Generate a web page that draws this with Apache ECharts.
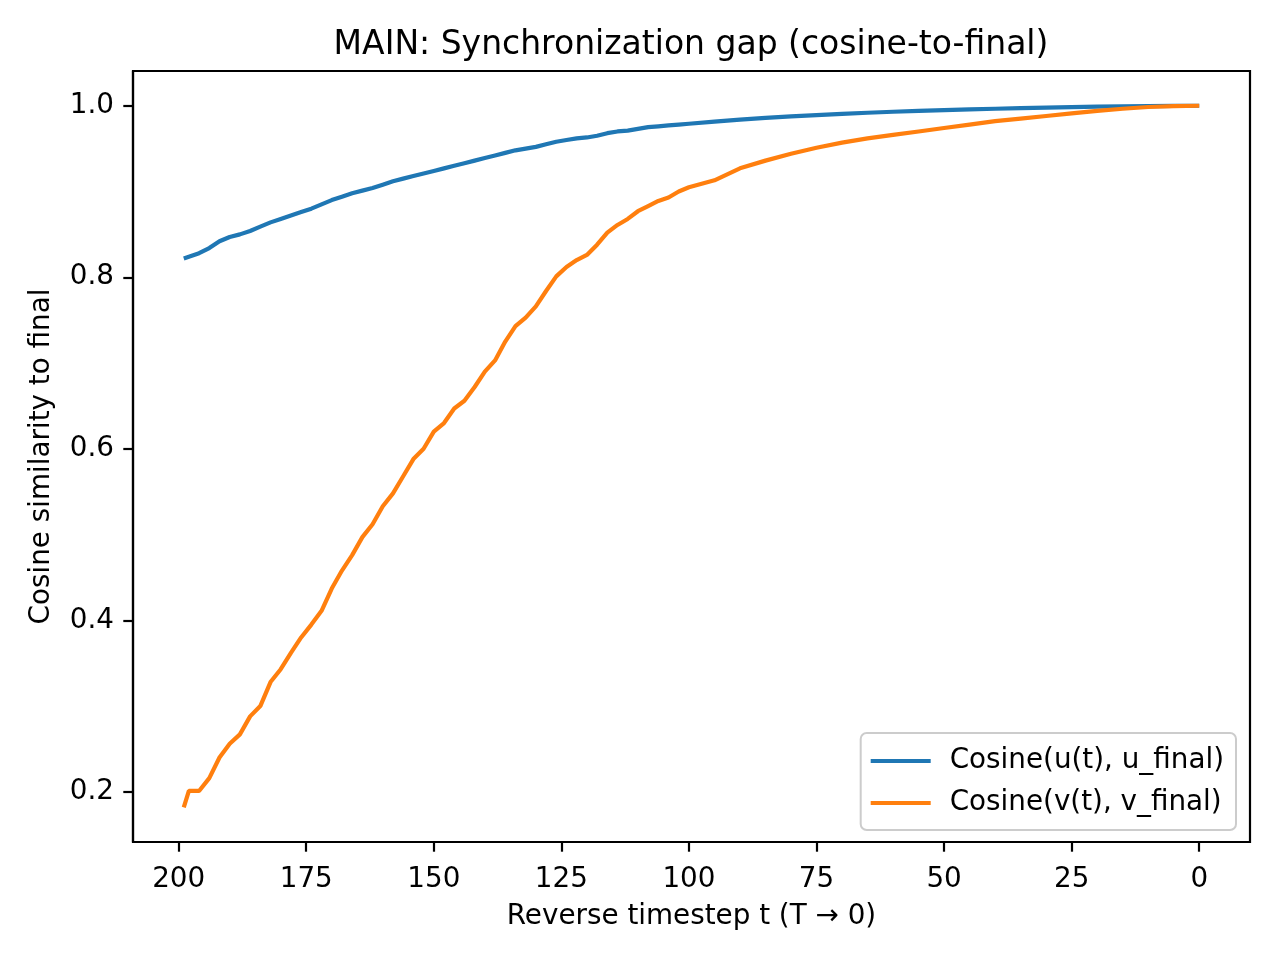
<!DOCTYPE html>
<html>
<head>
<meta charset="utf-8">
<script src="https://cdn.jsdelivr.net/npm/echarts@6/dist/echarts.min.js"></script>
<style>html,body{margin:0;padding:0;background:#fff}#c{width:1280px;height:960px}</style>
</head>
<body>
<div id="c"></div>
<script>
const timesteps = [199,198,196,194,192,190,188,186,184,182,180,178,176,174,172,170,168,166,164,162,160,158,156,154,152,150,148,146,144,142,140,138,136,134,132,130,128,126,124,122,120,118,116,114,112,110,108,106,104,102,100,95,90,85,80,75,70,65,60,55,50,45,40,35,30,25,20,15,10,5,0];
const cosU = [0.822,0.824,0.828,0.834,0.842,0.847,0.850,0.854,0.859,0.864,0.868,0.872,0.876,0.880,0.885,0.890,0.894,0.898,0.901,0.904,0.908,0.912,0.915,0.918,0.921,0.924,0.927,0.930,0.933,0.936,0.939,0.942,0.945,0.948,0.950,0.952,0.955,0.958,0.960,0.962,0.963,0.965,0.968,0.970,0.971,0.973,0.975,0.976,0.977,0.978,0.979,0.9815,0.9838,0.9858,0.9875,0.989,0.9905,0.9918,0.993,0.994,0.9949,0.9957,0.9965,0.9972,0.9978,0.9984,0.9989,0.9993,0.9996,0.9999,1.0];
const cosV = [0.182,0.201,0.201,0.216,0.240,0.256,0.267,0.288,0.300,0.328,0.343,0.362,0.380,0.395,0.411,0.437,0.458,0.476,0.497,0.512,0.533,0.548,0.568,0.588,0.600,0.620,0.630,0.647,0.656,0.672,0.690,0.703,0.725,0.743,0.753,0.766,0.784,0.801,0.812,0.820,0.826,0.838,0.852,0.861,0.868,0.877,0.883,0.889,0.893,0.900,0.905,0.913,0.927,0.936,0.944,0.951,0.957,0.962,0.966,0.970,0.974,0.978,0.982,0.985,0.988,0.991,0.994,0.9965,0.9985,0.9996,1.0];
const xTicks = [200,175,150,125,100,75,50,25,0];
const yTicks = [0.2,0.4,0.6,0.8,1.0];
const seriesNames = ['Cosine(u(t), u_final)','Cosine(v(t), v_final)'];

const FONT = 'DejaVu Sans';
const chart = echarts.init(document.getElementById('c'), null, {renderer:'canvas'});
chart.setOption({
  animation:false,
  backgroundColor:'#ffffff',
  title:{
    text:'MAIN: Synchronization gap (cosine-to-final)',
    left:691, top:29, textAlign:'center', padding:0,
    textStyle:{fontFamily:FONT,fontSize:33,fontWeight:'normal',color:'#000'}
  },
  grid:{left:133,right:30,top:71,bottom:118,show:true,borderColor:'#000',borderWidth:2.2,backgroundColor:'transparent'},
  xAxis:{
    type:'value', inverse:true, min:-9.95, max:208.95,
    name:'Reverse timestep t (T \u2192 0)', nameLocation:'middle', nameGap:61,
    nameTextStyle:{fontFamily:FONT,fontSize:27.8,color:'#000'},
    axisLine:{show:true,onZero:false,lineStyle:{color:'#000',width:2.2}},
    axisTick:{show:true,length:9.7,lineStyle:{color:'#000',width:2.2},customValues:xTicks},
    axisLabel:{margin:24,fontFamily:FONT,fontSize:27.8,color:'#000',customValues:xTicks,formatter:v=>String(v)},
    splitLine:{show:false}
  },
  yAxis:{
    type:'value', min:0.1415, max:1.0405,
    name:'Cosine similarity to final', nameLocation:'middle', nameGap:77,
    nameTextStyle:{fontFamily:FONT,fontSize:27.8,color:'#000'},
    axisLine:{show:true,onZero:false,lineStyle:{color:'#000',width:2.2}},
    axisTick:{show:true,length:9.7,lineStyle:{color:'#000',width:2.2},customValues:yTicks},
    axisLabel:{margin:19,fontFamily:FONT,fontSize:27.8,color:'#000',customValues:yTicks,formatter:v=>v.toFixed(1)},
    splitLine:{show:false}
  },
  legend:{
    orient:'vertical', right:44, bottom:130,
    data:seriesNames.map(n=>({name:n,icon:'rect'})),
    itemWidth:60, itemHeight:4, itemGap:14,
    padding:[14,12,13,10],
    backgroundColor:'rgba(255,255,255,0.8)', borderColor:'#cccccc', borderWidth:2, borderRadius:6,
    textStyle:{fontFamily:FONT,fontSize:27.8,color:'#000',lineHeight:28,padding:[0,0,0,14]}
  },
  series:[
    {name:seriesNames[0],type:'line',symbol:'none',smooth:false,
     lineStyle:{color:'#1f77b4',width:4.2},itemStyle:{color:'#1f77b4'},
     data:timesteps.map((t,i)=>[t,cosU[i]])},
    {name:seriesNames[1],type:'line',symbol:'none',smooth:false,
     lineStyle:{color:'#ff7f0e',width:4.2},itemStyle:{color:'#ff7f0e'},
     data:timesteps.map((t,i)=>[t,cosV[i]])}
  ]
});
</script>
</body>
</html>
